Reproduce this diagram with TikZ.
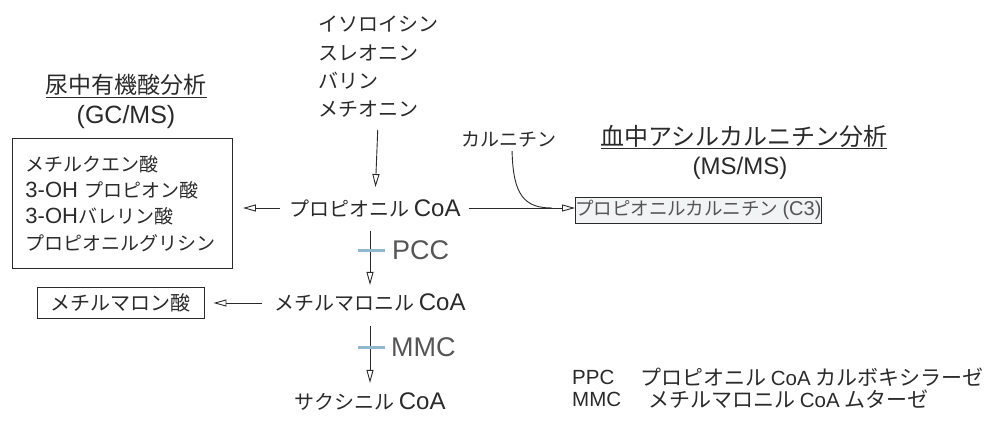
\documentclass[tikz,border=0pt]{standalone}
\usepackage{fontspec}
\setmainfont{Noto Sans CJK JP}
\newfontfamily\lat{Liberation Sans}
\newcommand\ltx[2]{{\lat\fontsize{#1}{#1}\selectfont #2}}
\usetikzlibrary{arrows.meta}
\definecolor{ink}{HTML}{2A2A2A}
\definecolor{soft}{HTML}{555555}
\definecolor{tickblue}{HTML}{8FB8CC}
\definecolor{boxfill}{HTML}{F1F4F5}
\begin{document}
\begin{tikzpicture}[x=1pt,y=-1pt,
  every node/.style={text=ink, inner sep=0pt, font=\fontsize{20}{26}\selectfont},
  arr/.style={draw=ink, line width=0.9pt, -{Triangle[open,length=13pt,width=7pt]}},
  tickbar/.style={draw=tickblue, line width=3pt},
  abbrev/.style={text=soft, anchor=west},
  boxed/.style={draw=ink, line width=0.9pt}]
\useasboundingbox (0,0) rectangle (987,422);

% precursors
\node[align=left, anchor=north west, font=\fontsize{20}{28.3}\selectfont] (aa) at (318,16)
  {イソロイシン\\スレオニン\\バリン\\メチオニン};

% main chain
\node (prop) at (375,208) {プロピオニル \ltx{24}{CoA}};
\node (mm) at (370,303) {メチルマロニル \ltx{24}{CoA}};
\node (suc) at (370,402) {サクシニル \ltx{24}{CoA}};

\draw[arr, shorten <=12pt, shorten >=12pt] (aa.south) -- (prop.north);
\draw[arr, shorten <=14pt, shorten >=9pt] (prop.south -| mm.north) -- (mm.north);
\draw[arr, shorten <=14pt, shorten >=10pt] (mm.south) -- (suc.north);

\draw[tickbar] (358,250) -- (385,250);
\draw[tickbar] (358,347) -- (385,347);
\node[abbrev] (pcc) at (392,250) {\ltx{27}{PCC}};
\node[abbrev] (mmc) at (391,347) {\ltx{27}{MMC}};

% urine organic acids
\node[font=\fontsize{23}{26}\selectfont] (t1) at (126,86) {\underline{尿中有機酸分析}};
\node (gc) at (126,117) {\ltx{25}{(GC/MS)}};
\node[boxed, anchor=north west, minimum width=220pt, minimum height=130pt,
  text width=194pt, inner xsep=13pt, align=left, font=\fontsize{19}{26.3}\selectfont] (lbox) at (12,138)
  {メチルクエン酸\\\ltx{22}{3-OH} プロピオン酸\\\ltx{22}{3-OH}バレリン酸\\プロピオニルグリシン};
\draw[arr, shorten <=9pt, shorten >=10pt] (prop.west) -- (prop.west -| lbox.east);

\node[boxed, minimum width=167pt, minimum height=31pt, font=\fontsize{20}{24}\selectfont] (mmbox) at (120.5,302.5) {メチルマロン酸};
\draw[arr, shorten <=12pt, shorten >=9pt] (mm.west) -- (mm.west -| mmbox.east);

% blood acylcarnitine
\node[font=\fontsize{24}{26}\selectfont] (t2) at (744,137) {\underline{血中アシルカルニチン分析}};
\node (msms) at (740,168) {\ltx{24}{(MS/MS)}};
\node[boxed, fill=boxfill, anchor=west, minimum width=243pt, minimum height=26pt,
  text=soft, font=\fontsize{18.5}{22}\selectfont] (c3) at (575,210) {プロピオニルカルニチン \ltx{20}{(C3)}};
\draw[arr, shorten <=8pt] (prop.east) -- (prop.east -| c3.west);
\node[font=\fontsize{19}{24}\selectfont] (carn) at (509,139) {カルニチン};
\coordinate (join) at (552,208);
\draw[draw=ink, line width=0.9pt, shorten <=4pt] (carn.south -| 512,0) .. controls (513,196) and (525,208) .. (join);

% legend
\node[anchor=west] (l1a) at (572,377) {\ltx{20.5}{PPC}};
\node[anchor=west, font=\fontsize{21}{24}\selectfont] (l1b) at (640,377) {プロピオニル \ltx{20.5}{CoA} カルボキシラーゼ};
\node[anchor=west] (l2a) at (572,399) {\ltx{20.5}{MMC}};
\node[anchor=west, font=\fontsize{21}{24}\selectfont] (l2b) at (648,399) {メチルマロニル \ltx{20.5}{CoA} ムターゼ};
\end{tikzpicture}
\end{document}
